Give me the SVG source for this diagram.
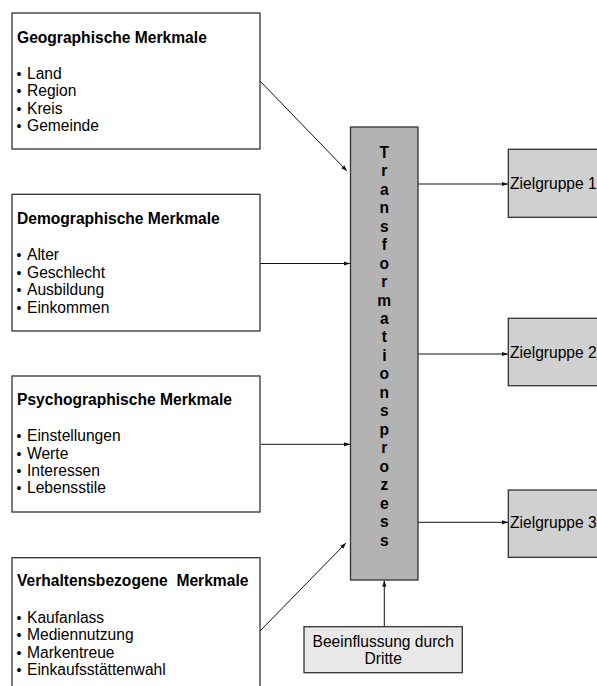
<svg xmlns="http://www.w3.org/2000/svg" width="597" height="686" viewBox="0 0 597 686">
<defs>
<style>
text{font-family:"Liberation Sans",Arial,sans-serif;fill:#000}
.t{font-size:15.6px;font-weight:bold}
.i{font-size:15.6px}
.b{font-size:14px}
.box{fill:#fff;stroke:#333;stroke-width:1.3}
.tr{fill:#b3b3b3;stroke:#333;stroke-width:1.3}
.zg{fill:#d0d0d0;stroke:#333;stroke-width:1.3}
.be{fill:#e8e8e8;stroke:#333;stroke-width:1.3}
.c{stroke:#111;stroke-width:1;fill:none;marker-end:url(#ah)}
</style>
<marker id="ah" viewBox="0 0 10 10" refX="10" refY="5" markerWidth="6" markerHeight="6" markerUnits="userSpaceOnUse" orient="auto">
<path d="M0,1.5 L10,5 L0,8.5 z" fill="#111"/>
</marker>
</defs>
<g id="connectors">
<line class="c" x1="260" y1="81" x2="347" y2="171"/>
<line class="c" x1="260" y1="263.5" x2="350" y2="263.5"/>
<line class="c" x1="261" y1="444.3" x2="350" y2="444.3"/>
<line class="c" x1="260" y1="631" x2="346" y2="543"/>
<line class="c" x1="418" y1="184" x2="508" y2="184"/>
<line class="c" x1="418" y1="354" x2="508" y2="354"/>
<line class="c" x1="418" y1="522.3" x2="508" y2="522.3"/>
<line class="c" x1="384.3" y1="626.7" x2="384.3" y2="580.5"/>
</g>
<g id="geo">
<rect class="box" x="12" y="13" width="248" height="136"/>
<text class="t" x="17" y="43">Geographische Merkmale</text>
<text class="b" x="16.5" y="78.5">•</text><text class="i" x="27" y="78.5">Land</text>
<text class="b" x="16.5" y="96">•</text><text class="i" x="27" y="96">Region</text>
<text class="b" x="16.5" y="113.5">•</text><text class="i" x="27" y="113.5">Kreis</text>
<text class="b" x="16.5" y="131">•</text><text class="i" x="27" y="131">Gemeinde</text>
</g>
<g id="demo">
<rect class="box" x="12" y="194.3" width="248" height="136.7"/>
<text class="t" x="17" y="223.5">Demographische Merkmale</text>
<text class="b" x="16.5" y="260">•</text><text class="i" x="27" y="260">Alter</text>
<text class="b" x="16.5" y="277.7">•</text><text class="i" x="27" y="277.7">Geschlecht</text>
<text class="b" x="16.5" y="295">•</text><text class="i" x="27" y="295">Ausbildung</text>
<text class="b" x="16.5" y="312.7">•</text><text class="i" x="27" y="312.7">Einkommen</text>
</g>
<g id="psycho">
<rect class="box" x="12" y="376" width="248" height="136"/>
<text class="t" x="17" y="405">Psychographische Merkmale</text>
<text class="b" x="16.5" y="441">•</text><text class="i" x="27" y="441">Einstellungen</text>
<text class="b" x="16.5" y="458.5">•</text><text class="i" x="27" y="458.5">Werte</text>
<text class="b" x="16.5" y="476">•</text><text class="i" x="27" y="476">Interessen</text>
<text class="b" x="16.5" y="493.3">•</text><text class="i" x="27" y="493.3">Lebensstile</text>
</g>
<g id="verhalten">
<rect class="box" x="12" y="557.7" width="248" height="140"/>
<text class="t" x="17" y="585.5" style="white-space:pre">Verhaltensbezogene  Merkmale</text>
<text class="b" x="16.5" y="622.7">•</text><text class="i" x="27" y="622.7">Kaufanlass</text>
<text class="b" x="16.5" y="640.2">•</text><text class="i" x="27" y="640.2">Mediennutzung</text>
<text class="b" x="16.5" y="657.7">•</text><text class="i" x="27" y="657.7">Markentreue</text>
<text class="b" x="16.5" y="675.3">•</text><text class="i" x="27" y="675.3">Einkaufsstättenwahl</text>
</g>
<g id="transformation">
<rect class="tr" x="350.5" y="127" width="67.5" height="453"/>
<text class="t" text-anchor="middle"><tspan x="384.3" y="157.7">T</tspan><tspan x="384.3" dy="18.48">r</tspan><tspan x="384.3" dy="18.48">a</tspan><tspan x="384.3" dy="18.48">n</tspan><tspan x="384.3" dy="18.48">s</tspan><tspan x="384.3" dy="18.48">f</tspan><tspan x="384.3" dy="18.48">o</tspan><tspan x="384.3" dy="18.48">r</tspan><tspan x="384.3" dy="18.48">m</tspan><tspan x="384.3" dy="18.48">a</tspan><tspan x="384.3" dy="18.48">t</tspan><tspan x="384.3" dy="18.48">i</tspan><tspan x="384.3" dy="18.48">o</tspan><tspan x="384.3" dy="18.48">n</tspan><tspan x="384.3" dy="18.48">s</tspan><tspan x="384.3" dy="18.48">p</tspan><tspan x="384.3" dy="18.48">r</tspan><tspan x="384.3" dy="18.48">o</tspan><tspan x="384.3" dy="18.48">z</tspan><tspan x="384.3" dy="18.48">e</tspan><tspan x="384.3" dy="18.48">s</tspan><tspan x="384.3" dy="18.48">s</tspan></text>
</g>
<g id="zg1">
<rect class="zg" x="508.3" y="149.3" width="100" height="68"/>
<text class="i" x="510" y="189">Zielgruppe 1</text>
</g>
<g id="zg2">
<rect class="zg" x="508.3" y="318.3" width="100" height="67.4"/>
<text class="i" x="510" y="358.3">Zielgruppe 2</text>
</g>
<g id="zg3">
<rect class="zg" x="508.3" y="490" width="100" height="67.3"/>
<text class="i" x="510" y="528.3">Zielgruppe 3</text>
</g>
<g id="beeinflussung">
<rect class="be" x="304" y="626.7" width="158.3" height="46"/>
<text class="i" text-anchor="middle"><tspan x="383.2" y="646.7">Beeinflussung durch</tspan><tspan x="383.2" y="664.3">Dritte</tspan></text>
</g>
</svg>
